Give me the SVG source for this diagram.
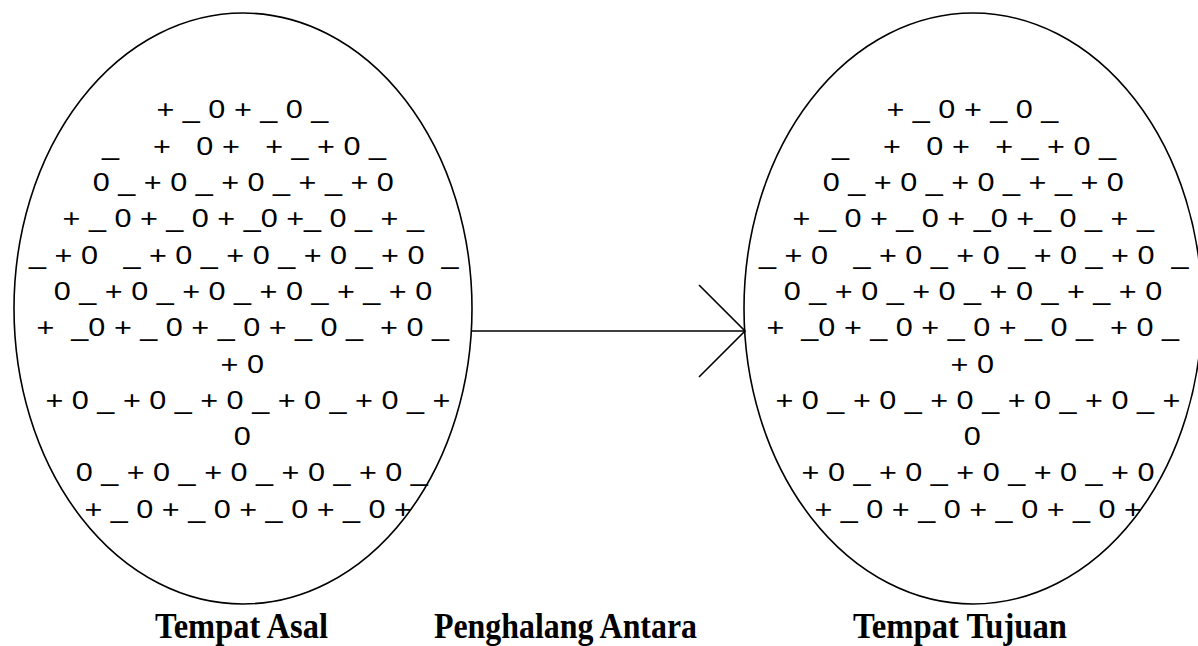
<svg xmlns="http://www.w3.org/2000/svg" width="1198" height="646" viewBox="0 0 1198 646" xml:space="preserve">
<style>
.bg{fill:#ffffff}
.ell{fill:none;stroke:#000;stroke-width:1.6}
.pat{font-family:"Liberation Sans",Arial,sans-serif;font-size:25.5px;fill:#000;white-space:pre}
.lbl{font-family:"Liberation Serif","Times New Roman",serif;font-size:35px;font-weight:bold;fill:#000}
.con{fill:none;stroke:#000;stroke-width:1.6}
</style>
<rect class="bg" x="0" y="0" width="1198" height="646"/>
<g id="tempat-asal">
<ellipse class="ell" cx="243" cy="308.5" rx="229" ry="295.5"/>
<g transform="translate(243 0) scale(1.2 1)" class="pat">
<text xml:space="preserve" x="-72.1" y="118.5">+ _ 0 + _ 0 _</text>
<text xml:space="preserve" x="-117.5" y="154.8">_    +   0 +   + _ + 0 _</text>
<text xml:space="preserve" x="-125.2" y="191.1">0 _ + 0 _ + 0 _ + _ + 0</text>
<text xml:space="preserve" x="-150.4" y="227.4">+ _ 0 + _ 0 + _0 +_ 0 _ + _</text>
<text xml:space="preserve" x="-178.3" y="263.7">_ + 0   _ + 0 _ + 0 _ + 0 _ + 0  _</text>
<text xml:space="preserve" x="-157.7" y="300">0 _ + 0 _ + 0 _ + 0 _ + _ + 0</text>
<text xml:space="preserve" x="-172.1" y="336.3">+  _0 + _ 0 + _ 0 + _ 0 _  + 0 _</text>
<text xml:space="preserve" x="-18.7" y="372.6">+ 0</text>
<text xml:space="preserve" x="-164.6" y="408.9">+ 0 _ + 0 _ + 0 _ + 0 _ + 0 _ +</text>
<text xml:space="preserve" x="-7.7" y="445.2">0</text>
<text xml:space="preserve" x="-139.4" y="481.5">0 _ + 0 _ + 0 _ + 0 _ + 0 _</text>
<text xml:space="preserve" x="-132.1" y="517.8">+ _ 0 + _ 0 + _ 0 + _ 0 +</text>
</g>
<text class="lbl" x="155" y="638" textLength="173" lengthAdjust="spacingAndGlyphs">Tempat Asal</text>
</g>
<g id="penghalang-antara">
<text class="lbl" x="434" y="638" textLength="263" lengthAdjust="spacingAndGlyphs">Penghalang Antara</text>
</g>
<g id="tempat-tujuan">
<ellipse class="ell" cx="973" cy="308.5" rx="229" ry="295.5"/>
<g transform="translate(973 0) scale(1.2 1)" class="pat">
<text xml:space="preserve" x="-72.1" y="118.5">+ _ 0 + _ 0 _</text>
<text xml:space="preserve" x="-117.5" y="154.8">_    +   0 +   + _ + 0 _</text>
<text xml:space="preserve" x="-125.2" y="191.1">0 _ + 0 _ + 0 _ + _ + 0</text>
<text xml:space="preserve" x="-150.4" y="227.4">+ _ 0 + _ 0 + _0 +_ 0 _ + _</text>
<text xml:space="preserve" x="-178.3" y="263.7">_ + 0   _ + 0 _ + 0 _ + 0 _ + 0  _</text>
<text xml:space="preserve" x="-157.7" y="300">0 _ + 0 _ + 0 _ + 0 _ + _ + 0</text>
<text xml:space="preserve" x="-172.1" y="336.3">+  _0 + _ 0 + _ 0 + _ 0 _  + 0 _</text>
<text xml:space="preserve" x="-18.7" y="372.6">+ 0</text>
<text xml:space="preserve" x="-164.6" y="408.9">+ 0 _ + 0 _ + 0 _ + 0 _ + 0 _ +</text>
<text xml:space="preserve" x="-7.7" y="445.2">0</text>
<text xml:space="preserve" x="-142.9" y="481.5">+ 0 _ + 0 _ + 0 _ + 0 _ + 0</text>
<text xml:space="preserve" x="-132.1" y="517.8">+ _ 0 + _ 0 + _ 0 + _ 0 +</text>
</g>
<text class="lbl" x="853" y="638" textLength="214" lengthAdjust="spacingAndGlyphs">Tempat Tujuan</text>
</g>
<g id="connectors">
<line class="con" x1="471" y1="331" x2="745" y2="331"/>
<polyline class="con" points="699,285 745,331 699,377"/>
</g>
</svg>
